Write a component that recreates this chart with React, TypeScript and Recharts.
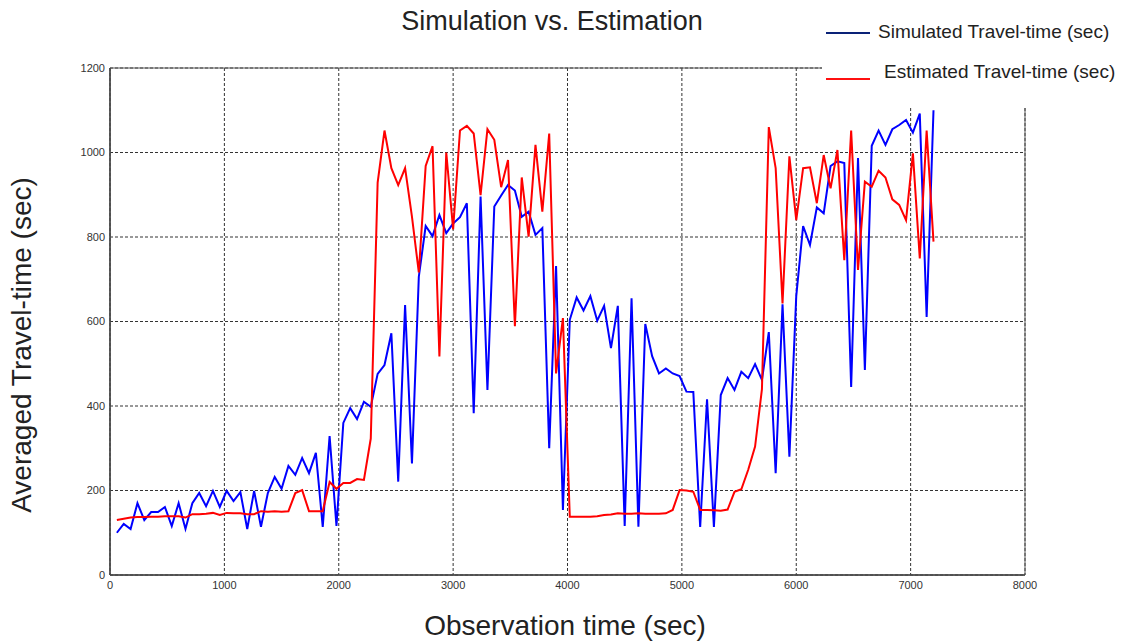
import React from "react"
import { LineChart, Line, XAxis, YAxis, CartesianGrid, ReferenceArea } from "recharts"

// observation times (sec), one sample per minute
const times = [
  60, 120, 180, 240, 300, 360, 420, 480, 540, 600, 660, 720, 780, 840, 900, 960, 1020, 1080, 1140, 1200,
  1260, 1320, 1380, 1440, 1500, 1560, 1620, 1680, 1740, 1800, 1860, 1920, 1980, 2040, 2100, 2160, 2220, 2280, 2340, 2400,
  2460, 2520, 2580, 2640, 2700, 2760, 2820, 2880, 2940, 3000, 3060, 3120, 3180, 3240, 3300, 3360, 3420, 3480, 3540, 3600,
  3660, 3720, 3780, 3840, 3900, 3960, 4020, 4080, 4140, 4200, 4260, 4320, 4380, 4440, 4500, 4560, 4620, 4680, 4740, 4800,
  4860, 4920, 4980, 5040, 5100, 5160, 5220, 5280, 5340, 5400, 5460, 5520, 5580, 5640, 5700, 5760, 5820, 5880, 5940, 6000,
  6060, 6120, 6180, 6240, 6300, 6360, 6420, 6480, 6540, 6600, 6660, 6720, 6780, 6840, 6900, 6960, 7020, 7080, 7140, 7200,
]

const simulated = [
  100, 121, 109, 170, 130, 149, 149, 161, 116, 170, 109, 170, 194, 163, 199, 161, 199, 175, 196, 109,
  199, 114, 194, 232, 204, 258, 237, 277, 241, 289, 114, 329, 116, 360, 395, 369, 410, 398, 476, 497,
  572, 221, 639, 264, 706, 826, 802, 852, 809, 832, 847, 880, 383, 896, 438, 872, 898, 923, 910, 848,
  860, 805, 821, 300, 731, 154, 604, 657, 626, 660, 602, 637, 537, 637, 116, 655, 114, 594, 518, 477,
  489, 477, 471, 434, 433, 114, 416, 114, 426, 466, 438, 481, 466, 499, 462, 575, 241, 641, 280, 660,
  826, 781, 870, 856, 968, 979, 975, 445, 987, 485, 1016, 1052, 1018, 1055, 1065, 1077, 1047, 1092, 611, 1100,
]

const estimated = [
  130, 133, 136, 137, 137, 138, 138, 139, 139, 139, 136, 144, 144, 145, 147, 142, 147, 146, 146, 144,
  144, 151, 150, 151, 150, 151, 194, 201, 151, 151, 151, 220, 204, 218, 218, 227, 225, 323, 929, 1052,
  963, 923, 963, 848, 716, 968, 1015, 517, 1000, 818, 1052, 1063, 1045, 899, 1055, 1030, 918, 982, 589, 941,
  801, 1018, 860, 1045, 477, 608, 138, 138, 138, 138, 139, 142, 143, 146, 145, 145, 146, 145, 145, 145,
  146, 154, 201, 200, 197, 154, 154, 153, 152, 155, 197, 203, 249, 304, 440, 1060, 963, 643, 991, 840,
  963, 965, 880, 994, 915, 1006, 745, 1052, 722, 931, 919, 957, 941, 889, 876, 840, 998, 749, 1052, 789,
]

const xTicks = [0, 1000, 2000, 3000, 4000, 5000, 6000, 7000, 8000]
const yTicks = [0, 200, 400, 600, 800, 1000, 1200]

const rows = times.map((t, i) => ({ t, simulated: simulated[i], estimated: estimated[i] }))

const font = '"Liberation Sans", Arial, sans-serif'
const tickStyle = { fontSize: 11, fill: "#333", fontFamily: font }

export default function App() {
  return (
    <div style={{ position: "absolute", left: 0, top: 0, width: 1124, height: 643, background: "#fff", fontFamily: font, color: "#222" }}>
      <LineChart width={1124} height={643} data={rows} margin={{ top: 68, right: 99, bottom: 38, left: 60 }}>
        <CartesianGrid stroke="#333" strokeDasharray="3 2" strokeWidth={1} />
        <ReferenceArea x1={0} x2={8000} y1={0} y2={1200} fill="none" stroke="#555" strokeWidth={1} ifOverflow="visible" />
        <XAxis
          type="number"
          dataKey="t"
          domain={[0, 8000]}
          ticks={xTicks}
          tick={tickStyle}
          tickLine={false}
          tickSize={4}
          axisLine={{ stroke: "#444", strokeWidth: 1.5 }}
          height={30}
        />
        <YAxis
          type="number"
          domain={[0, 1200]}
          ticks={yTicks}
          tick={tickStyle}
          tickLine={false}
          tickSize={3}
          axisLine={{ stroke: "#444", strokeWidth: 1.5 }}
          width={50}
        />
        <Line type="linear" dataKey="simulated" stroke="#0000ff" strokeWidth={2} dot={false} isAnimationActive={false} />
        <Line type="linear" dataKey="estimated" stroke="#ff0000" strokeWidth={2} dot={false} isAnimationActive={false} />
      </LineChart>

      {/* title */}
      <div style={{ position: "absolute", left: 352, width: 400, top: 6, textAlign: "center", fontSize: 27 }}>
        Simulation vs. Estimation
      </div>

      {/* legend box sits over the top right corner of the frame */}
      <div style={{ position: "absolute", left: 822, top: 0, width: 302, height: 108, background: "#fff" }}>
        <div style={{ position: "absolute", left: 4, top: 32, width: 44, height: 2, background: "#0a2277" }} />
        <div style={{ position: "absolute", left: 56, top: 21, fontSize: 19, whiteSpace: "nowrap" }}>
          Simulated Travel-time (sec)
        </div>
        <div style={{ position: "absolute", left: 4, top: 78, width: 44, height: 2, background: "#ff1010" }} />
        <div style={{ position: "absolute", left: 62, top: 61, fontSize: 19, whiteSpace: "nowrap" }}>
          Estimated Travel-time (sec)
        </div>
      </div>

      {/* axis titles */}
      <div style={{ position: "absolute", left: 365, width: 400, top: 610, textAlign: "center", fontSize: 28 }}>
        Observation time (sec)
      </div>
      <div
        style={{
          position: "absolute",
          left: 22 - 200,
          top: 345 - 17,
          width: 400,
          textAlign: "center",
          fontSize: 28,
          transform: "rotate(-90deg)",
          transformOrigin: "50% 50%",
          lineHeight: "34px",
        }}
      >
        Averaged Travel-time (sec)
      </div>
    </div>
  )
}
